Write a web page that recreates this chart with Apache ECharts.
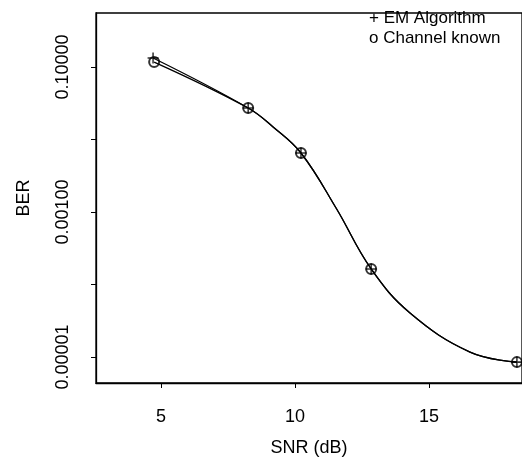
<!DOCTYPE html>
<html>
<head>
<meta charset="utf-8">
<script src="https://cdn.jsdelivr.net/npm/echarts@6/dist/echarts.min.js"></script>
<style>
  html, body { margin: 0; padding: 0; background: #fff; }
  #chart { width: 522px; height: 467px; }
</style>
</head>
<body>
<div id="chart"></div>
<script>
// markers
var snrEM = [4.70, 8.25, 10.22, 12.84, 18.28];
var berEM = [0.133, 0.0272, 0.00652, 0.000164, 0.0000085];
var snrKnown = [4.74, 8.25, 10.22, 12.84, 18.28];
var berKnown = [0.117, 0.0272, 0.00652, 0.000164, 0.0000085];

// the fitted curve (shared by both after ~8 dB)
var curveSnr = [8.25, 9.18, 10.22, 11.53, 12.84, 14.29, 16.53, 18.28];
var curveBer = [0.0272, 0.0149, 0.00652, 0.001135, 0.000164, 0.0000405, 0.0000117, 0.0000085];

var xTicks = [5, 10, 15];
var yTicks = [0.00001, 0.0001, 0.001, 0.01, 0.1];
var yLabels = [0.00001, 0.001, 0.1];

var font = "'Liberation Sans', Arial, sans-serif";
var plusPath = 'path://M4.3,0H5.7V10H4.3Z M0,4.3H10V5.7H0Z';

function pairs(xs, ys) {
	return xs.map(function (x, i) { return [x, ys[i]]; });
}

var chart = echarts.init(document.getElementById('chart'));

chart.setOption({
	animation: false,
	backgroundColor: '#fff',
	textStyle: { fontFamily: font, color: '#000' },
	grid: {
		left: 96, top: 13, right: -2, bottom: 84,
		show: true, borderColor: '#000', borderWidth: 1.3
	},
	legend: {
		orient: 'vertical',
		left: 364, top: 10,
		padding: 0,
		itemWidth: 0, itemHeight: 0, itemGap: 3,
		icon: 'none',
		textStyle: { fontFamily: font, fontSize: 17, color: '#000', padding: 0 },
		formatter: function (name) {
			return (name === 'EM Algorithm' ? '+ ' : 'o ') + name;
		},
		data: ['EM Algorithm', 'Channel known']
	},
	xAxis: {
		type: 'value',
		min: 2.57, max: 18.47,
		name: 'SNR (dB)',
		nameLocation: 'middle',
		nameGap: 56,
		nameTextStyle: { fontFamily: font, fontSize: 18, color: '#000' },
		splitLine: { show: false },
		axisLine: { show: true, onZero: false, lineStyle: { color: '#000', width: 1.3 } },
		axisTick: { show: true, length: 5, inside: false, customValues: xTicks, lineStyle: { color: '#000' } },
		axisLabel: { customValues: xTicks, margin: 25, fontSize: 18, color: '#000', fontFamily: font }
	},
	yAxis: {
		type: 'log',
		logBase: 10,
		min: 0.00000438, max: 0.556,
		name: 'BER',
		nameLocation: 'middle',
		nameRotate: 90,
		nameGap: 63,
		nameTextStyle: { fontFamily: font, fontSize: 18, color: '#000' },
		splitLine: { show: false },
		axisLine: { show: true, lineStyle: { color: '#000', width: 1.3 } },
		axisTick: { show: true, length: 5, customValues: yTicks, lineStyle: { color: '#000' } },
		axisLabel: {
			customValues: yLabels,
			rotate: 90,
			margin: 24,
			fontSize: 18,
			color: '#000',
			fontFamily: font,
			formatter: function (v) { return Number(v).toFixed(5); }
		}
	},
	series: [
		{
			name: 'EM Algorithm',
			type: 'line',
			data: [[snrEM[0], berEM[0]]].concat(pairs(curveSnr, curveBer)),
			smooth: 0.4,
			showSymbol: false,
			symbol: 'none',
			lineStyle: { color: '#000', width: 1.3 },
			itemStyle: { color: '#000' },
			z: 2
		},
		{
			name: 'Channel known',
			type: 'line',
			data: [[snrKnown[0], berKnown[0]]].concat(pairs(curveSnr, curveBer)),
			smooth: 0.4,
			showSymbol: false,
			symbol: 'none',
			lineStyle: { color: '#000', width: 1.3 },
			itemStyle: { color: '#000' },
			z: 2
		},
		{
			name: 'EM Algorithm',
			type: 'scatter',
			data: pairs(snrEM, berEM),
			symbol: plusPath,
			symbolSize: 11,
			itemStyle: { color: '#000' },
			z: 4
		},
		{
			name: 'Channel known',
			type: 'scatter',
			data: pairs(snrKnown, berKnown),
			symbol: 'circle',
			symbolSize: 10,
			itemStyle: { color: 'rgba(255,255,255,0)', borderColor: '#000', borderWidth: 2 },
			z: 3
		}
	]
});
</script>
</body>
</html>
